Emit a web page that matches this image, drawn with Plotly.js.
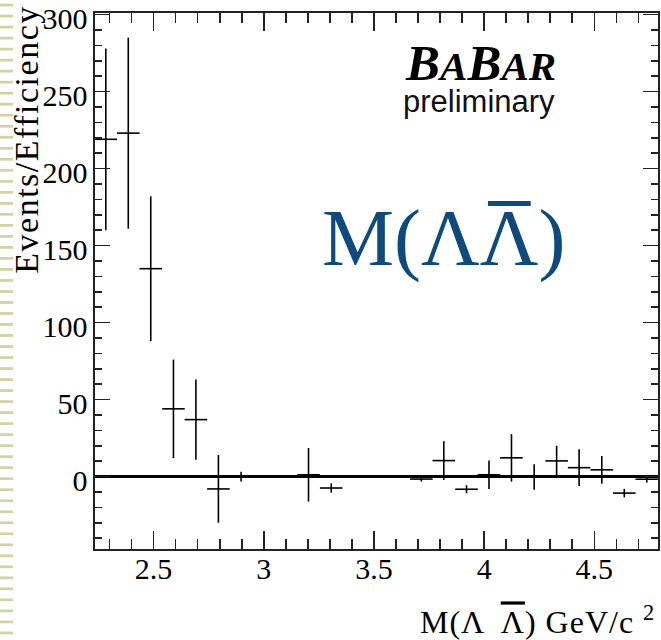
<!DOCTYPE html>
<html>
<head>
<meta charset="utf-8">
<script src="https://cdn.plot.ly/plotly-3.0.1.min.js"></script>
<style>
  html, body { margin: 0; padding: 0; background: #ffffff; }
  #wrap { position: relative; width: 661px; height: 640px; }
  #chart { position: absolute; left: 0; top: 0; width: 661px; height: 640px; }
  /* slide-style dashed rail along the left edge */
  #rail {
    position: absolute; left: 0; top: 0; width: 13px; height: 640px; z-index: 5;
    pointer-events: none;
    background-image: linear-gradient(to bottom,
      transparent 0, transparent 3.5px,
      #d4d1a3 3.5px, #d4d1a3 6.5px,
      transparent 6.5px, transparent 11.02px);
    background-size: 13px 11.02px;
    background-repeat: repeat-y;
  }
</style>
</head>
<body>
<div id="wrap">
  <div id="chart"></div>
  <div id="rail"></div>
</div>
<script>
// Lambda-antiLambda invariant mass spectrum, efficiency corrected (GeV/c^2)
const binCenters = [2.283, 2.385, 2.487, 2.590, 2.692, 2.794, 2.897, 2.999, 3.101, 3.203,
                    3.306, 3.408, 3.510, 3.613, 3.715, 3.817, 3.920, 4.022, 4.124, 4.227,
                    4.329, 4.431, 4.534, 4.636, 4.738];
const binHalfWidth = [0.0512, 0.0512, 0.0512, 0.0512, 0.0512, 0.0512, 0.0512, 0.0512, 0.0512, 0.0512,
                      0.0512, 0.0512, 0.0512, 0.0512, 0.0512, 0.0512, 0.0512, 0.0512, 0.0512, 0.0512,
                      0.0512, 0.0512, 0.0512, 0.0512, 0.0512];
const eventsPerEff = [219, 223, 135, 44, 37, -8, 0, 0, 0, 1.2,
                      -7.4, 0, 0, 0, -1.6, 10.4, -8.2, 1.2, 12.2, -0.3,
                      10.2, 5.8, 4.4, -10.7, -1.7];
const statErr = [59, 62, 47, 32, 26, 22, 3.2, 0, 0, 17.4,
                 3, 0, 0, 0, 1.6, 12.6, 2.6, 9.2, 15.4, 8.3,
                 9.8, 11.9, 9, 2.8, 2.2];

const xTitle = '<span style="letter-spacing:1px">M(\u039B  <span style="text-decoration:overline">\u039B</span>) GeV/c <sup>2</sup></span>';
const yTitle = '<span style="letter-spacing:1.5px">Events/Efficiency</span>';
const bigLabel = 'M(\u039B\u039B)';

const serif = '"Liberation Serif", "Times New Roman", Times, serif';
const sans = '"Liberation Sans", Arial, Helvetica, sans-serif';
const labelBlue = '#0d4a80';

const trace = {
  type: 'scatter',
  mode: 'markers',
  x: binCenters,
  y: eventsPerEff,
  marker: { size: 0.1, color: '#000' },
  error_x: { type: 'data', array: binHalfWidth, symmetric: true, color: '#000', thickness: 1.6, width: 0 },
  error_y: { type: 'data', array: statErr, symmetric: true, color: '#000', thickness: 1.6, width: 0 },
  hoverinfo: 'x+y',
  showlegend: false
};

const axisCommon = {
  showline: true, linecolor: '#222', linewidth: 1.6, mirror: 'allticks',
  ticks: 'inside', tickcolor: '#222', tickwidth: 1.6,
  showgrid: false,
  ticklabeloverflow: 'allow',
  tickfont: { family: serif, size: 30, color: '#000' }
};

const layout = {
  width: 661, height: 640,
  margin: { l: 95, r: 3, t: 13, b: 91, pad: 0 },
  paper_bgcolor: '#ffffff', plot_bgcolor: '#ffffff',
  font: { family: serif, color: '#000' },
  showlegend: false,
  xaxis: Object.assign({}, axisCommon, {
    range: [2.234, 4.789],
    tick0: 2.5, dtick: 0.5, ticklen: 18,
    ticklabelstandoff: -8,
    zeroline: false,
    minor: { dtick: 0.1, ticks: 'inside', ticklen: 10, tickwidth: 1.6, tickcolor: '#222', showgrid: false }
  }),
  yaxis: Object.assign({}, axisCommon, {
    range: [-47, 301],
    tick0: 0, dtick: 50, ticklen: 15,
    ticklabelshift: 4,
    zeroline: true, zerolinecolor: '#000', zerolinewidth: 2.6,
    minor: { dtick: 10, ticks: 'inside', ticklen: 7, tickwidth: 1.6, tickcolor: '#222', showgrid: false }
  }),
  shapes: [
    // bar over the anti-Lambda in the large label
    { type: 'line', xref: 'paper', yref: 'paper', x0: 0.6981, x1: 0.7739, y0: 0.6446, y1: 0.6446,
      line: { color: labelBlue, width: 5 } }
  ],
  annotations: [
    {
      text: '<b><i>B<span style="font-size:41px">A</span>B<span style="font-size:41px">AR</span></i></b>',
      xref: 'paper', yref: 'paper', x: 0.5470, y: 0.9065, xanchor: 'left', yanchor: 'middle',
      showarrow: false, font: { family: serif, size: 51, color: '#000' }
    },
    {
      text: 'preliminary',
      xref: 'paper', yref: 'paper', x: 0.5440, y: 0.8353, xanchor: 'left', yanchor: 'middle',
      showarrow: false, font: { family: sans, size: 31, color: '#111' }
    },
    {
      text: bigLabel,
      xref: 'paper', yref: 'paper', x: 0.3990, y: 0.5808, xanchor: 'left', yanchor: 'middle',
      showarrow: false, font: { family: serif, size: 81, color: labelBlue }
    },
    {
      text: yTitle, textangle: -90,
      xref: 'paper', yref: 'paper', x: -0.1222, y: 0.764, xanchor: 'center', yanchor: 'middle',
      showarrow: false, font: { family: serif, size: 34, color: '#000' }
    },
    {
      text: xTitle,
      xref: 'paper', yref: 'paper', x: 0.9977, y: -0.1323, xanchor: 'right', yanchor: 'middle',
      showarrow: false, font: { family: serif, size: 32, color: '#000' }
    }
  ]
};

Plotly.newPlot('chart', [trace], layout, { staticPlot: true, displayModeBar: false });
</script>
</body>
</html>
